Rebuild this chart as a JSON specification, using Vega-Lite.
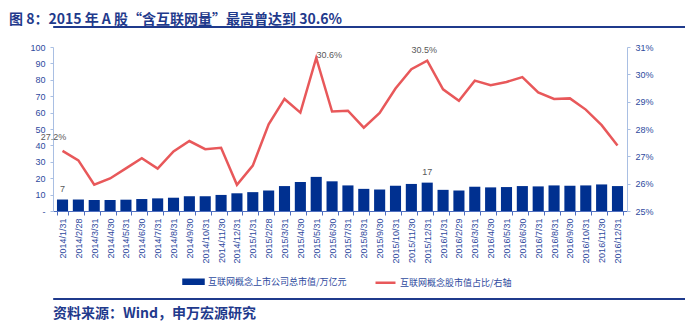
{
  "$schema": "https://vega.github.io/schema/vega-lite/v6.json",
  "padding": {"left": 9, "top": 12, "right": 0, "bottom": 0},
  "background": "white",
  "title": {"text": "图 8：2015 年 A 股“含互联网量”最高曾达到 30.6%", "anchor": "start", "font": "Noto Sans CJK SC", "fontSize": 14, "fontWeight": "bold", "color": "#1F3A8C", "offset": -1},
  "align": "none",
  "spacing": 11,
  "config": {"view": {"stroke": null}, "font": "Liberation Sans"},
  "datasets": {
    "t": [
      {"d": "2014/1/31", "v": 7.0, "p": 27.2, "bl": "7", "pl": "27.2%"},
      {"d": "2014/2/28", "v": 7.0, "p": 26.85},
      {"d": "2014/3/31", "v": 6.7, "p": 25.96},
      {"d": "2014/4/30", "v": 6.7, "p": 26.19},
      {"d": "2014/5/31", "v": 6.9, "p": 26.56},
      {"d": "2014/6/30", "v": 7.3, "p": 26.93},
      {"d": "2014/7/31", "v": 7.7, "p": 26.55},
      {"d": "2014/8/31", "v": 8.1, "p": 27.18},
      {"d": "2014/9/30", "v": 9.0, "p": 27.56},
      {"d": "2014/10/31", "v": 9.0, "p": 27.26},
      {"d": "2014/11/30", "v": 9.8, "p": 27.31},
      {"d": "2014/12/31", "v": 10.8, "p": 25.96},
      {"d": "2015/1/31", "v": 11.5, "p": 26.66},
      {"d": "2015/2/28", "v": 12.5, "p": 28.17},
      {"d": "2015/3/31", "v": 15.2, "p": 29.1},
      {"d": "2015/4/30", "v": 17.7, "p": 28.6},
      {"d": "2015/5/31", "v": 20.8, "p": 30.6, "pl": "30.6%"},
      {"d": "2015/6/30", "v": 18.1, "p": 28.64},
      {"d": "2015/7/31", "v": 15.6, "p": 28.67},
      {"d": "2015/8/31", "v": 13.5, "p": 28.05},
      {"d": "2015/9/30", "v": 13.1, "p": 28.59},
      {"d": "2015/10/31", "v": 15.4, "p": 29.48},
      {"d": "2015/11/30", "v": 16.5, "p": 30.19},
      {"d": "2015/12/31", "v": 17.3, "p": 30.5, "bl": "17", "pl": "30.5%"},
      {"d": "2016/1/31", "v": 12.9, "p": 29.45},
      {"d": "2016/2/29", "v": 12.5, "p": 29.03},
      {"d": "2016/3/31", "v": 14.8, "p": 29.77},
      {"d": "2016/4/30", "v": 14.4, "p": 29.6},
      {"d": "2016/5/31", "v": 14.6, "p": 29.72},
      {"d": "2016/6/30", "v": 15.2, "p": 29.9},
      {"d": "2016/7/31", "v": 15.0, "p": 29.34},
      {"d": "2016/8/31", "v": 15.6, "p": 29.1},
      {"d": "2016/9/30", "v": 15.4, "p": 29.12},
      {"d": "2016/10/31", "v": 15.6, "p": 28.71},
      {"d": "2016/11/30", "v": 16.2, "p": 28.14},
      {"d": "2016/12/31", "v": 15.2, "p": 27.4}
    ]
  },
  "vconcat": [
    {
      "width": 676, "height": 1,
      "view": {"fill": "#1F3A8C", "stroke": "#1F3A8C", "strokeWidth": 1},
      "data": {"values": []},
      "mark": "point"
    },
    {
      "width": 574, "height": 164,
      "data": {"name": "t"},
      "encoding": {
        "x": {
          "field": "d", "type": "ordinal", "sort": null,
          "scale": {"paddingInner": 0.3, "paddingOuter": 0.25},
          "axis": {"title": " ", "titleFontSize": 9, "titlePadding": 13, "labelAngle": -90, "labelFontSize": 9, "labelColor": "#2E4A9E", "domainColor": "#4F6FC0", "tickColor": "#4F6FC0", "tickSize": 4, "tickBand": "extent", "labelPadding": 3}
        }
      },
      "layer": [
        {
          "encoding": {
            "y": {"field": "v", "type": "quantitative", "scale": {"domain": [0, 100]},
              "axis": {"title": null, "values": [0, 10, 20, 30, 40, 50, 60, 70, 80, 90, 100], "labelExpr": "datum.value === 0 ? '-' : datum.label", "tickSize": 3, "labelPadding": 5, "domainColor": "#A9BFE3", "tickColor": "#A9BFE3", "grid": false, "minExtent": 44, "labelFontSize": 9, "labelColor": "#2E4A9E"}}
          },
          "layer": [
            {
              "mark": {"type": "bar"},
              "encoding": {
                "color": {
                  "datum": "互联网概念上市公司总市值/万亿元",
                  "scale": {"domain": ["互联网概念上市公司总市值/万亿元", "互联网概念股市值占比/右轴"], "range": ["#003090", "#E8585A"]},
                  "legend": {
                    "title": null, "orient": "none", "legendX": 129, "legendY": 244, "direction": "horizontal",
                    "labelFont": "Noto Sans CJK SC", "labelFontSize": 9, "labelColor": "#2E4A9E", "symbolSize": 400, "columnPadding": 23, "labelOffset": 3,
                    "encode": {"symbols": {"update": {
                      "shape": {"signal": "datum.value === '互联网概念上市公司总市值/万亿元' ? 'M-1,-0.2H1V0.2H-1Z' : 'stroke'"},
                      "fill": {"signal": "datum.value === '互联网概念上市公司总市值/万亿元' ? '#003090' : 'transparent'"},
                      "stroke": {"signal": "datum.value === '互联网概念上市公司总市值/万亿元' ? 'transparent' : '#E8585A'"},
                      "strokeWidth": {"value": 2.5},
                      "opacity": {"value": 1}
                    }}}
                  }
                }
              }
            },
            {
              "mark": {"type": "text", "dy": -11, "fontSize": 9, "color": "#595959"},
              "encoding": {"text": {"condition": {"test": "datum.bl != null", "field": "bl"}, "value": ""}}
            }
          ]
        },
        {
          "encoding": {
            "y": {"field": "p", "type": "quantitative", "scale": {"domain": [25, 31], "zero": false},
              "axis": {"orient": "right", "title": null, "values": [25, 26, 27, 28, 29, 30, 31], "labelExpr": "datum.value + '%'", "tickSize": 3, "labelPadding": 5, "domainColor": "#A9BFE3", "tickColor": "#A9BFE3", "grid": false, "labelFontSize": 9, "labelColor": "#2E4A9E"}}
          },
          "layer": [
            {
              "mark": {"type": "line", "strokeWidth": 2.5},
              "encoding": {"color": {"datum": "互联网概念股市值占比/右轴"}}
            },
            {
              "mark": {"type": "text", "dx": -9, "dy": -14, "fontSize": 9, "color": "#595959"},
              "encoding": {"text": {"condition": {"test": "datum.d === '2014/1/31'", "field": "pl"}, "value": ""}}
            },
            {
              "mark": {"type": "text", "dx": 13, "dy": -3, "fontSize": 9, "color": "#595959"},
              "encoding": {"text": {"condition": {"test": "datum.d === '2015/5/31'", "field": "pl"}, "value": ""}}
            },
            {
              "mark": {"type": "text", "dx": -3, "dy": -11, "fontSize": 9, "color": "#595959"},
              "encoding": {"text": {"condition": {"test": "datum.d === '2015/12/31'", "field": "pl"}, "value": ""}}
            }
          ]
        }
      ],
      "resolve": {"scale": {"y": "independent"}}
    },
    {
      "width": 676, "height": 1,
      "view": {"fill": "#1F3A8C", "stroke": "#1F3A8C", "strokeWidth": 1},
      "data": {"values": []},
      "mark": "point",
      "title": {"text": "资料来源：Wind，申万宏源研究", "orient": "bottom", "anchor": "start", "font": "Noto Sans CJK SC", "fontSize": 14, "fontWeight": "bold", "color": "#1F3A8C", "offset": 8}
    }
  ]
}
